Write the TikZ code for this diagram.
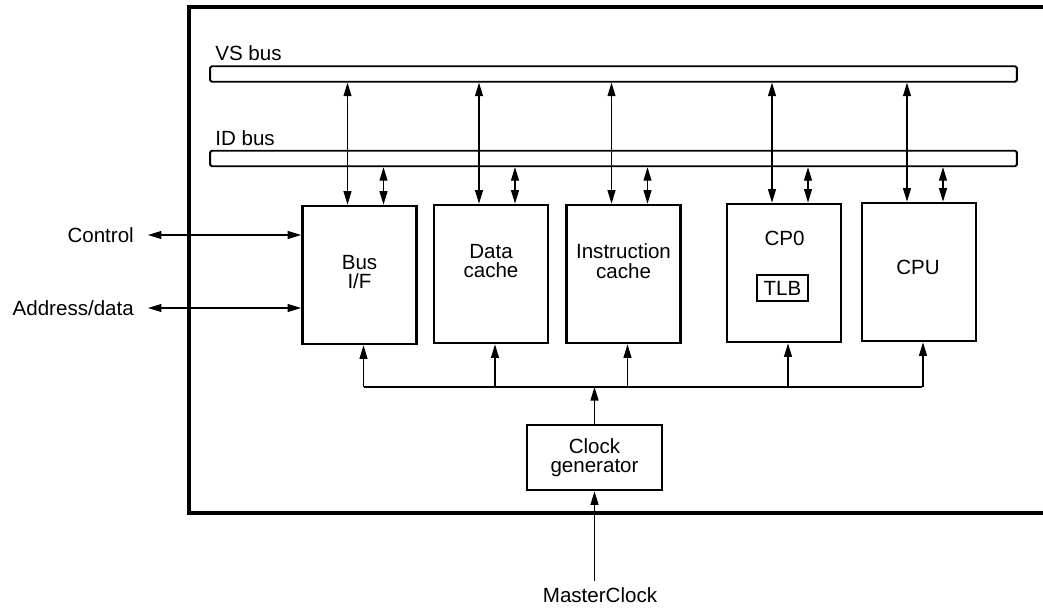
\documentclass[tikz,border=0pt]{standalone}
\usepackage{fontspec}
\setmainfont{Liberation Sans}
\usetikzlibrary{arrows.meta,positioning}
\tikzset{
  unit/.style={draw, line width=1.6pt, minimum width=2.28cm, minimum height=2.76cm, inner sep=0pt},
  bus/.style={draw, line width=1.1pt, rounded corners=1pt, minimum width=16.14cm, minimum height=0.31cm, inner sep=0pt},
  txt/.style={align=center, inner sep=0pt},
  arr/.style={line width=0.6pt, -{Triangle[length=0.27cm,width=0.16cm]}},
  dbl/.style={line width=0.6pt, {Triangle[length=0.27cm,width=0.16cm]}-{Triangle[length=0.27cm,width=0.16cm]}}
}
\begin{document}
\begin{tikzpicture}[x=0.02cm, y=-0.02cm, font=\fontsize{11.7}{11}\selectfont]
\useasboundingbox (0,0) rectangle (1043,608);
% chip outline, open to the right
\draw[line width=1.8pt] (1050,7) -| (189,513) -- (1050,513);
% buses
\node[bus] (vs) at (613.5,74) {};
\node[bus] (id) at (613.5,158.5) {};
\node[anchor=base west] (vslbl) at ([yshift=0.09cm]vs.north west) {VS bus};
\node[anchor=base west] (idlbl) at ([yshift=0.09cm]id.north west) {ID bus};
% units
\node[unit] (bif) at (359.5,275) {};
\node[unit] (dc) at (491,274) {};
\node[unit] (ic) at (623.5,274) {};
\node[unit] (cp) at (784,273) {};
\node[unit] (cpu) at (919,272) {};
\node[txt] (biftxt) at (359.5,272) {Bus\\I/F};
\node[txt] (dctxt) at (491,261) {Data\\cache};
\node[txt] (ictxt) at (623.5,261) {Instruction\\cache};
\node[txt] (cptxt) at (784.5,238) {CP0};
\node[draw, line width=0.8pt, minimum width=1.02cm, minimum height=0.52cm, inner sep=0pt] (tlb) at (782.5,288) {TLB};
\node[txt] (cputxt) at (918,267) {CPU};
% clock
\node[unit, minimum width=2.7cm, minimum height=1.3cm, align=center] (cg) at (594.5,457.5) {Clock\\generator};
\coordinate (clk) at (594.5,387);
\draw[line width=0.6pt] ([xshift=0.08cm]bif.south |- clk) -- ([xshift=0.06cm]cpu.south |- clk);
\draw[arr] (cg.north) -- (cg.north |- clk);
\foreach \u in {bif,dc,ic,cp,cpu}{
  \draw[dbl] ([xshift=-0.24cm]\u.north |- vs.south) -- ([xshift=-0.24cm]\u.north);
  \draw[dbl] ([xshift=0.48cm]\u.north |- id.south) -- ([xshift=0.48cm]\u.north);
  \draw[arr] ([xshift=0.08cm]\u.south |- clk) -- ([xshift=0.08cm]\u.south);
}
% external signals
\node[anchor=east] (ctl) at (140,235) {Control};
\node[anchor=east] (adr) at (140,308) {Address/data};
\draw[dbl] ([xshift=0.16cm]ctl.east) -- (ctl -| bif.west);
\draw[dbl] ([xshift=0.16cm]adr.east) -- (adr -| bif.west);
\node (mc) at (600,595) {MasterClock};
\draw[arr] (cg.south |- mc.north) -- (cg.south);
\end{tikzpicture}
\end{document}
